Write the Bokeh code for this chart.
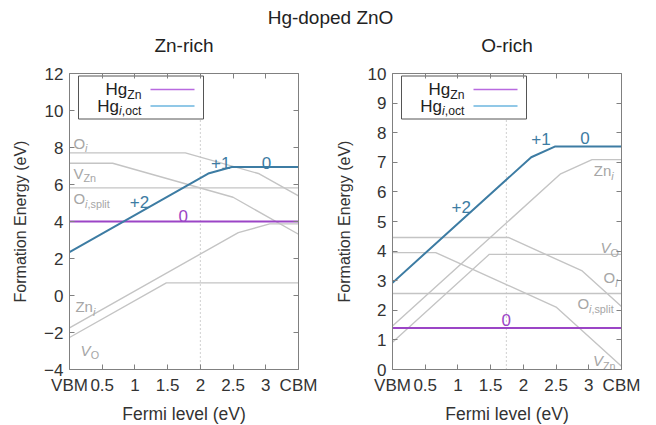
from bokeh.plotting import figure
from bokeh.layouts import column, row
from bokeh.models import Range1d, FixedTicker, LinearAxis, Label, CustomJSTickFormatter
from bokeh.core.properties import value
from bokeh.embed import file_html
from bokeh.resources import INLINE

# ---------------- data ----------------
GAP = 3.5
x_ticks = [0, 0.5, 1, 1.5, 2, 2.5, 3, 3.5]
x_tick_labels = ["VBM", "0.5", "1", "1.5", "2", "2.5", "3", "CBM"]

# Zn-rich panel
zn_hgi_x = [0, 2.12, 2.48, 3.5]
zn_hgi_y = [2.35, 6.59, 6.95, 6.95]
zn_hgzn_x = [0, 3.5]
zn_hgzn_y = [4.0, 4.0]
zn_oi_x = [0, 1.77, 2.9, 3.5]
zn_oi_y = [7.71, 7.71, 6.58, 5.38]
zn_vzn_x = [0, 0.66, 2.5, 3.5]
zn_vzn_y = [7.15, 7.15, 5.31, 3.31]
zn_oisplit_x = [0, 3.5]
zn_oisplit_y = [5.82, 5.82]
zn_zni_x = [0, 2.58, 3.06, 3.5]
zn_zni_y = [-1.75, 3.40, 3.87, 3.87]
zn_vo_x = [0, 1.48, 3.5]
zn_vo_y = [-2.27, 0.68, 0.68]
zn_fermi = 2.0

# O-rich panel
o_hgi_x = [0, 2.12, 2.48, 3.5]
o_hgi_y = [2.93, 7.17, 7.53, 7.53]
o_hgzn_x = [0, 3.5]
o_hgzn_y = [1.40, 1.40]
o_oi_x = [0, 1.77, 2.9, 3.5]
o_oi_y = [4.46, 4.46, 3.33, 2.13]
o_vzn_x = [0, 0.66, 2.5, 3.5]
o_vzn_y = [3.95, 3.95, 2.11, 0.11]
o_oisplit_x = [0, 3.5]
o_oisplit_y = [2.57, 2.57]
o_zni_x = [0, 2.57, 3.05, 3.5]
o_zni_y = [1.47, 6.61, 7.09, 7.09]
o_vo_x = [0, 1.48, 3.5]
o_vo_y = [0.92, 3.89, 3.89]
o_fermi = 1.74

main_title = "Hg-doped ZnO"
panel_titles = ["Zn-rich", "O-rich"]

# ---------------- style ----------------
FONT = "Liberation Sans"
FW, FH = 229, 296
HEAD_H = 58
C_HGI = "#3d7ca3"
C_HGZN = "#9b45c6"
C_HGI_LEG = "#6cb6df"
C_HGZN_LEG = "#b86ae0"
C_GREY = "#c4c4c4"
C_GREY_TXT = "#a6a6a6"
C_AXIS = "#808080"
C_TXT = "#333333"

WID = {'H': 722, 'g': 556, 'Z': 611, 'n': 556, 'i': 222, ',': 278, 'o': 556,
       'c': 500, 't': 278, 'O': 778, 'V': 667, 's': 500, 'p': 556, 'l': 222,
       ' ': 278, '+': 584, '.': 278}


def tw(s, size):
    return sum(WID.get(ch, 556) for ch in s) / 1000.0 * size


def rich(p, x, y, parts, color, size=15, align="left"):
    """parts: list of (text, kind) kind in n, i, s, si (subscript, italic)."""
    sub = size * 0.72
    pieces = []
    for t, k in parts:
        sz = sub if k in ("s", "si") else size
        pieces.append((t, k, sz, tw(t, sz)))
    total = sum(pc[3] for pc in pieces)
    off = 0.0 if align == "left" else (-total if align == "right" else -total / 2)
    for t, k, sz, w in pieces:
        dy = 5 if k in ("s", "si") else 0
        style = "italic" if k in ("i", "si") else "normal"
        p.text(x=[x], y=[y], text=[t], x_offset=off, y_offset=dy,
               text_font=value(FONT), text_font_size=f"{sz:.1f}px",
               text_font_style=style, text_color=color,
               text_align="left", text_baseline="middle")
        off += w


def panel(ymin, ymax, ystep, mleft, mright):
    p = figure(frame_width=FW, frame_height=FH, x_range=Range1d(0, GAP),
               y_range=Range1d(ymin, ymax), output_backend="svg",
               toolbar_location=None,
               min_border_left=mleft, min_border_right=mright,
               min_border_top=73 - HEAD_H, min_border_bottom=56)
    p.grid.visible = False
    p.outline_line_color = None
    p.background_fill_color = "white"
    p.border_fill_color = "white"
    yt = list(range(ymin, ymax + 1, ystep))
    for ax in p.xaxis:
        ax.ticker = FixedTicker(ticks=x_ticks)
        ax.major_label_overrides = {t: l for t, l in zip([0, 0.5, 1, 1.5, 2, 2.5, 3, 3.5], x_tick_labels)}
        ax.axis_label = "Fermi level (eV)"
    for ax in p.yaxis:
        ax.ticker = FixedTicker(ticks=yt)
        ax.axis_label = "Formation Energy (eV)"
    for ax in p.axis:
        ax.major_label_text_font = FONT
        ax.major_label_text_font_size = "17px"
        ax.major_label_text_color = C_TXT
        ax.major_label_standoff = 6
        ax.axis_label_text_font = FONT
        ax.axis_label_text_font_style = "normal"
        ax.axis_label_text_color = C_TXT
    for ax in p.xaxis:
        ax.axis_label_text_font_size = "17.5px"
        ax.axis_label_standoff = 6
    for ax in p.yaxis:
        ax.axis_label_text_font_size = "16px"
        ax.axis_label_standoff = 12
    blank = CustomJSTickFormatter(code="return ''")
    top = LinearAxis(ticker=FixedTicker(ticks=x_ticks), formatter=blank,
                     major_label_standoff=0)
    right = LinearAxis(ticker=FixedTicker(ticks=yt), formatter=blank,
                       major_label_standoff=0)
    p.add_layout(top, "above")
    p.add_layout(right, "right")
    for ax in p.axis:
        ax.axis_line_color = C_AXIS
        ax.major_tick_line_color = C_AXIS
        ax.major_tick_in = 5
        ax.major_tick_out = 0
        ax.minor_tick_line_color = None
    return p


def to_data(p, dx, dy):
    x0, x1 = p.x_range.start, p.x_range.end
    y0, y1 = p.y_range.start, p.y_range.end
    return x0 + dx / FW * (x1 - x0), y1 - dy / FH * (y1 - y0)


def legend(p):
    l, t = to_data(p, 9, 2.5)
    r, b = to_data(p, 134, 45.5)
    p.quad(left=[l], right=[r], top=[t], bottom=[b], fill_color="white",
           line_color="#555555", line_width=1)
    for dy, col, sub in [(16, C_HGZN_LEG, [("Zn", "s")]),
                         (32.5, C_HGI_LEG, [("i", "si"), (",oct", "s")])]:
        xa, ya = to_data(p, 81, dy)
        xb, _ = to_data(p, 125, dy)
        p.line(x=[xa, xb], y=[ya, ya], line_color=col, line_width=1.6)
        xt, _ = to_data(p, 72, dy)
        rich(p, xt, ya, [("Hg", "n")] + sub, "#222222", size=17, align="right")


def draw(p, fermi, greys, hgzn, hgi):
    p.line(x=[fermi, fermi], y=[p.y_range.start, p.y_range.end],
           line_color="#a0a0a0", line_dash="1 3", line_width=1)
    for xs, ys in greys:
        p.line(x=xs, y=ys, line_color=C_GREY, line_width=1.4)
    p.line(x=hgzn[0], y=hgzn[1], line_color=C_HGZN, line_width=2)
    p.line(x=hgi[0], y=hgi[1], line_color=C_HGI, line_width=2)
    legend(p)


# ---------------- Zn-rich ----------------
p1 = panel(-4, 12, 2, 69, 30)
draw(p1, zn_fermi,
     [(zn_oi_x, zn_oi_y), (zn_vzn_x, zn_vzn_y), (zn_oisplit_x, zn_oisplit_y),
      (zn_zni_x, zn_zni_y), (zn_vo_x, zn_vo_y)],
     (zn_hgzn_x, zn_hgzn_y), (zn_hgi_x, zn_hgi_y))
rich(p1, 0.06, 8.22, [("O", "n"), ("i", "si")], C_GREY_TXT)
rich(p1, 0.06, 6.60, [("V", "n"), ("Zn", "s")], C_GREY_TXT)
rich(p1, 0.06, 5.24, [("O", "n"), ("i", "si"), (",split", "s")], C_GREY_TXT)
rich(p1, 0.09, -0.60, [("Zn", "n"), ("i", "si")], C_GREY_TXT)
rich(p1, 0.17, -2.97, [("V", "i"), ("O", "s")], C_GREY_TXT)
rich(p1, 1.07, 5.03, [("+2", "n")], C_HGI, size=17, align="center")
rich(p1, 2.31, 7.14, [("+1", "n")], C_HGI, size=17, align="center")
rich(p1, 3.01, 7.14, [("0", "n")], C_HGI, size=17, align="center")
rich(p1, 1.74, 4.32, [("0", "n")], C_HGZN, size=17, align="center")

# ---------------- O-rich ----------------
p2 = panel(0, 10, 1, 64, 35)
draw(p2, o_fermi,
     [(o_oi_x, o_oi_y), (o_vzn_x, o_vzn_y), (o_oisplit_x, o_oisplit_y),
      (o_zni_x, o_zni_y), (o_vo_x, o_vo_y)],
     (o_hgzn_x, o_hgzn_y), (o_hgi_x, o_hgi_y))
rich(p2, 3.38, 6.71, [("Zn", "n"), ("i", "si")], C_GREY_TXT, align="right")
rich(p2, 3.46, 4.12, [("V", "i"), ("O", "s")], C_GREY_TXT, align="right")
rich(p2, 3.44, 3.10, [("O", "n"), ("i", "si")], C_GREY_TXT, align="right")
rich(p2, 3.38, 2.22, [("O", "n"), ("i", "si"), (",split", "s")], C_GREY_TXT, align="right")
rich(p2, 3.41, 0.30, [("V", "i"), ("Zn", "s")], C_GREY_TXT, align="right")
rich(p2, 1.05, 5.50, [("+2", "n")], C_HGI, size=17, align="center")
rich(p2, 2.27, 7.78, [("+1", "n")], C_HGI, size=17, align="center")
rich(p2, 2.94, 7.82, [("0", "n")], C_HGI, size=17, align="center")
rich(p2, 1.74, 1.67, [("0", "n")], C_HGZN, size=17, align="center")

# ---------------- header (main title + panel titles) ----------------
h = figure(width=656, height=HEAD_H, x_range=Range1d(0, 656),
           y_range=Range1d(HEAD_H, 0), output_backend="svg",
           toolbar_location=None, min_border=0)
h.axis.visible = False
h.grid.visible = False
h.outline_line_color = None
for txt, cx, cy in [(main_title, 330, 17),
                    (panel_titles[0], 69 + FW / 2, 45),
                    (panel_titles[1], 392 + FW / 2, 45)]:
    h.add_layout(Label(x=cx, y=cy, text=txt, text_font=FONT,
                       text_font_size="19px", text_align="center",
                       text_baseline="middle", text_color="#222222"))

layout = column(h, row(p1, p2, spacing=0), spacing=0)
open("out.html", "w").write(file_html(layout, INLINE))
